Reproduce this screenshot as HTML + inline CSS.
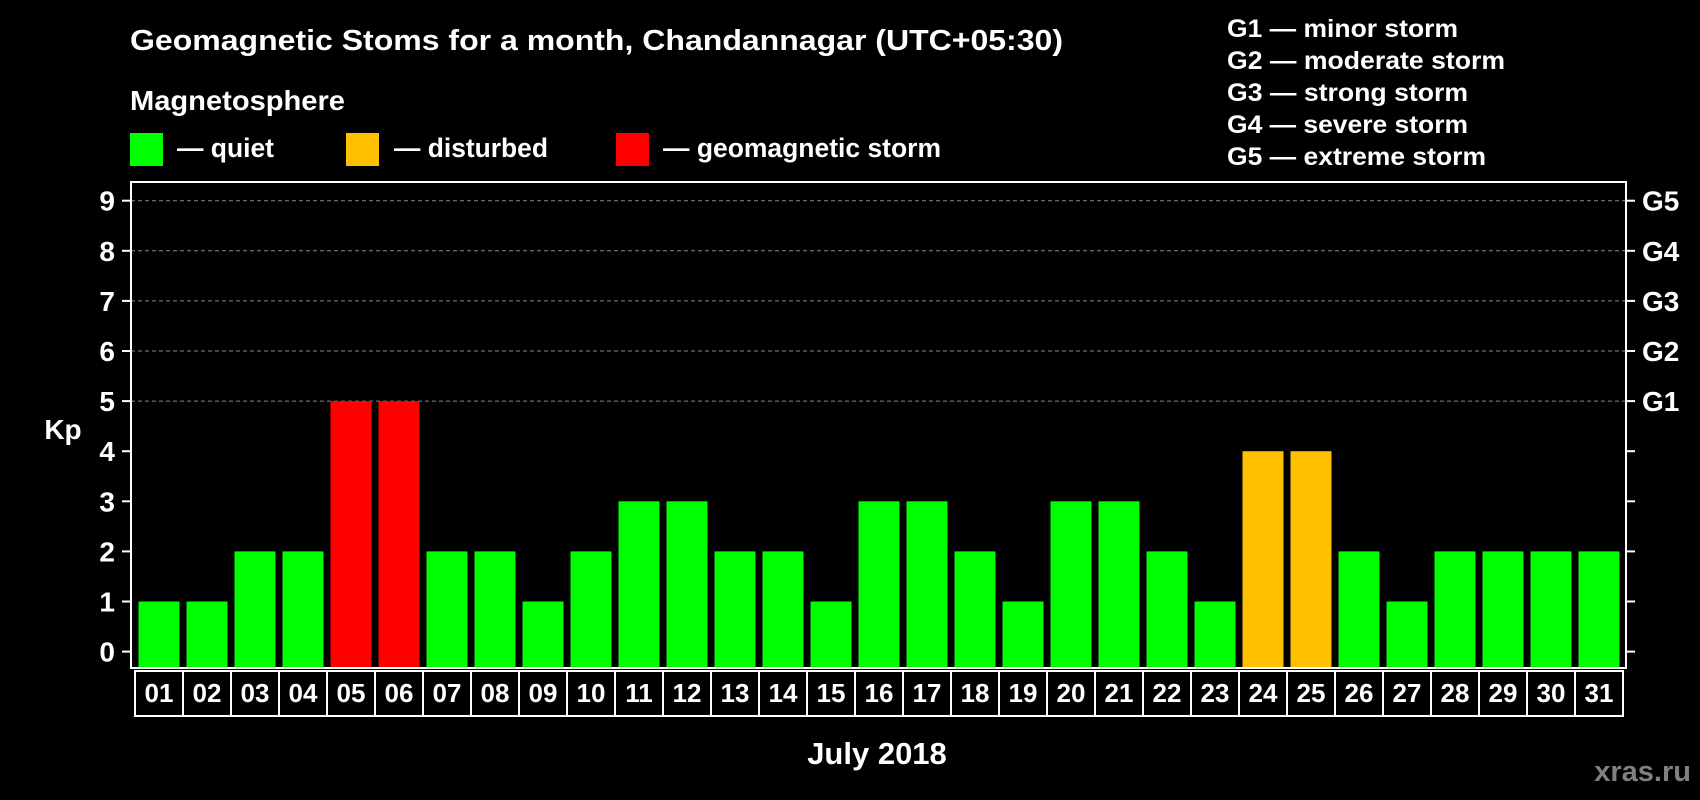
<!DOCTYPE html>
<html><head><meta charset="utf-8"><style>
html,body{margin:0;padding:0;background:#000;}
svg{display:block;font-family:"Liberation Sans",Arial,sans-serif;font-weight:bold;}
</style></head><body>
<svg id="chart" width="1700" height="800" viewBox="0 0 1700 800">
<rect x="0" y="0" width="1700" height="800" fill="#000"/>
<text x="130" y="50" font-size="29" fill="#fff" textLength="933" lengthAdjust="spacingAndGlyphs">Geomagnetic Stoms for a month, Chandannagar (UTC+05:30)</text>
<text x="130" y="110" font-size="28" fill="#fff" textLength="215" lengthAdjust="spacingAndGlyphs">Magnetosphere</text>
<g>
<rect x="130" y="133" width="33" height="33" fill="#00ff00"/>
<text x="177" y="157" font-size="27" fill="#fff" textLength="97" lengthAdjust="spacingAndGlyphs">— quiet</text>
</g>
<g>
<rect x="346" y="133" width="33" height="33" fill="#ffc000"/>
<text x="394" y="157" font-size="27" fill="#fff" textLength="154" lengthAdjust="spacingAndGlyphs">— disturbed</text>
</g>
<g>
<rect x="616" y="133" width="33" height="33" fill="#ff0000"/>
<text x="663" y="157" font-size="27" fill="#fff" textLength="278" lengthAdjust="spacingAndGlyphs">— geomagnetic storm</text>
</g>
<g font-size="25" fill="#fff">
<text x="1227" y="37" textLength="231" lengthAdjust="spacingAndGlyphs">G1 — minor storm</text>
<text x="1227" y="69" textLength="278" lengthAdjust="spacingAndGlyphs">G2 — moderate storm</text>
<text x="1227" y="101" textLength="241" lengthAdjust="spacingAndGlyphs">G3 — strong storm</text>
<text x="1227" y="133" textLength="241" lengthAdjust="spacingAndGlyphs">G4 — severe storm</text>
<text x="1227" y="165" textLength="259" lengthAdjust="spacingAndGlyphs">G5 — extreme storm</text>
</g>
<text x="63" y="439" font-size="28" fill="#fff" text-anchor="middle">Kp</text>
<text x="877" y="764" font-size="31" fill="#fff" text-anchor="middle">July 2018</text>
<text x="1691" y="781" font-size="29" fill="#808080" text-anchor="end">xras.ru</text>
<g id="grid"></g><g id="bars"></g><g id="axes"></g>
</svg>
<script>
const days = ["01","02","03","04","05","06","07","08","09","10","11","12","13","14","15","16","17","18","19","20","21","22","23","24","25","26","27","28","29","30","31"];
const kpValues = [1,1,2,2,5,5,2,2,1,2,3,3,2,2,1,3,3,2,1,3,3,2,1,4,4,2,1,2,2,2,2];
const yTicks = [0,1,2,3,4,5,6,7,8,9];
const gLabels = ["G1","G2","G3","G4","G5"];
const gLevels = [5,6,7,8,9];

const NS = "http://www.w3.org/2000/svg";
const L = 131, R = 1626, T = 182, B = 668;
const y = v => 651.6 - v * 50.1;
const slot = (1623 - 135) / days.length;
const x = i => 135 + i * slot;
function mk(tag, attrs, parent) {
  const e = document.createElementNS(NS, tag);
  for (const k in attrs) e.setAttribute(k, attrs[k]);
  parent.appendChild(e);
  return e;
}
const grid = document.getElementById("grid");
const bars = document.getElementById("bars");
const axes = document.getElementById("axes");

gLevels.forEach(v => {
  const l = mk("line", {x1: L, x2: R, y1: y(v), y2: y(v), stroke: "#888", "stroke-width": 1, "stroke-dasharray": "4,3"}, grid);
  
  
});

kpValues.forEach((v, i) => {
  const col = v >= 5 ? "#ff0000" : (v >= 4 ? "#ffc000" : "#00ff00");
  const r = mk("rect", {x: x(i) + 3.5, y: y(v), width: slot - 7, height: B - y(v), fill: col}, bars);
  
  
});

const frame = mk("rect", {x: L, y: T, width: R - L, height: B - T, fill: "none", stroke: "#fff", "stroke-width": 2}, axes);



yTicks.forEach(v => {
  const t = mk("line", {x1: L - 9, x2: L, y1: y(v), y2: y(v), stroke: "#fff", "stroke-width": 2}, axes);
  
  
  const t2 = mk("line", {x1: R, x2: R + 9, y1: y(v), y2: y(v), stroke: "#fff", "stroke-width": 2}, axes);
  
  
  const lb = mk("text", {x: 115, y: y(v) + 10, "font-size": 28, fill: "#fff", "text-anchor": "end"}, axes);
  lb.textContent = v;
  
  
});

gLevels.forEach((v, i) => {
  const lb = mk("text", {x: 1642, y: y(v) + 10, "font-size": 28, fill: "#fff"}, axes);
  lb.textContent = gLabels[i];
  
  
});

days.forEach((d, i) => {
  const bx = mk("rect", {x: x(i), y: 671, width: slot, height: 45, fill: "none", stroke: "#fff", "stroke-width": 2}, axes);
  
  
  const lb = mk("text", {x: x(i) + slot / 2, y: 702, "font-size": 26, fill: "#fff", "text-anchor": "middle"}, axes);
  lb.textContent = d;
  
  
});
</script>
</body></html>
